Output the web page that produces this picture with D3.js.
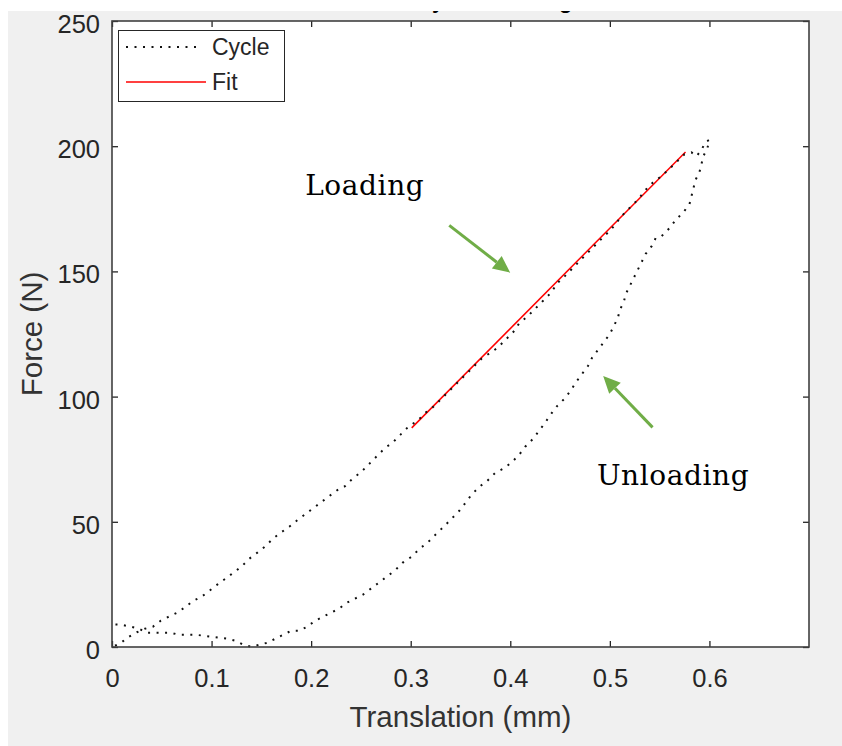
<!DOCTYPE html>
<html>
<head>
<meta charset="utf-8">
<script src="https://cdn.jsdelivr.net/npm/d3@7"></script>
<style>
  body { margin: 0; background: #fff; }
  svg { display: block; }
  .tick text { font-family: "Liberation Sans", Arial, sans-serif; fill: #262626; }
</style>
</head>
<body>
<div id="chart"></div>
<script>
// cycle data: loading branch then unloading branch
const loadX = [0.003, 0.009, 0.017, 0.025, 0.033, 0.041, 0.049, 0.057, 0.066, 0.074, 0.082, 0.090,
  0.098, 0.106, 0.114, 0.122, 0.130, 0.138, 0.146, 0.154, 0.162, 0.170, 0.178, 0.186, 0.194,
  0.202, 0.210, 0.218, 0.226, 0.234, 0.242, 0.250, 0.258, 0.266, 0.274, 0.282, 0.290, 0.298,
  0.307, 0.315, 0.323, 0.331, 0.339, 0.347, 0.355, 0.363, 0.371, 0.387, 0.395, 0.403, 0.409,
  0.417, 0.425, 0.433, 0.441, 0.447, 0.455, 0.493, 0.501, 0.513, 0.521, 0.529, 0.535, 0.543,
  0.551, 0.560, 0.575, 0.582, 0.587, 0.592, 0.596, 0.600];
const loadF = [0.5, 1.7, 4.1, 5.9, 7.3, 8.1, 10.5, 12.1, 13.8, 16.1, 18.5, 20.1,
  22.5, 25.0, 27.3, 29.7, 32.1, 35.3, 37.7, 40.2, 43.4, 45.8, 48.0, 50.6, 53.0,
  55.4, 57.8, 60.2, 62.6, 64.2, 67.4, 69.8, 73.0, 76.2, 79.4, 81.7, 84.9, 88.1,
  90.4, 93.6, 96.0, 99.2, 102.4, 105.6, 108.7, 111.9, 115.1, 119.4, 122.6, 125.8, 129.3,
  131.9, 135.1, 138.3, 141.5, 145.2, 148.2, 163.6, 166.6, 172.6, 175.8, 179.0, 182.2, 185.4,
  187.8, 191.0, 196.8, 197.5, 196.0, 198.5, 201.7, 202.5];
const unloadX = [0.598, 0.594, 0.592, 0.590, 0.586, 0.584, 0.582, 0.580, 0.574, 0.566, 0.560,
  0.552, 0.546, 0.542, 0.536, 0.532, 0.528, 0.524, 0.520, 0.516, 0.514, 0.510, 0.508, 0.504,
  0.500, 0.494, 0.488, 0.482, 0.478, 0.472, 0.466, 0.461, 0.455, 0.447, 0.441, 0.435, 0.429,
  0.423, 0.415, 0.409, 0.401, 0.393, 0.385, 0.377, 0.369, 0.361, 0.355, 0.349, 0.341, 0.333,
  0.325, 0.317, 0.309, 0.301, 0.292, 0.284, 0.276, 0.268, 0.260, 0.252, 0.244, 0.236, 0.228,
  0.220, 0.212, 0.204, 0.196, 0.188, 0.180, 0.172, 0.164, 0.156, 0.148, 0.140, 0.132, 0.124,
  0.116, 0.100, 0.084, 0.067, 0.059, 0.035, 0.027, 0.019, 0.009, 0.000];
const unloadF = [199.3, 196.1, 192.9, 189.7, 186.5, 183.3, 180.1, 176.9, 173.7, 170.5, 167.3,
  164.1, 163.3, 160.1, 157.0, 153.8, 150.6, 147.4, 144.2, 141.0, 137.8, 134.6, 131.4, 128.2,
  125.0, 121.8, 118.6, 115.4, 112.2, 109.0, 105.8, 102.6, 99.4, 96.2, 93.1, 89.6, 86.4,
  83.2, 80.0, 76.8, 73.6, 71.2, 69.6, 66.4, 64.0, 60.8, 57.6, 54.5, 51.2, 48.0,
  44.9, 41.7, 39.3, 36.1, 33.7, 30.5, 28.1, 25.7, 23.3, 20.9, 19.3, 17.7, 15.3,
  13.7, 12.1, 10.5, 8.1, 6.5, 6.5, 4.9, 3.3, 1.7, 0.9, 0.1, 0.9, 2.5,
  3.3, 4.1, 4.9, 4.9, 5.7, 5.7, 7.3, 8.1, 8.9, 9.0];

// linear fit over the loading part
const fitX = [0.301, 0.576];
const fitF = [87.5, 197.7];

const xTicks = [0, 0.1, 0.2, 0.3, 0.4, 0.5, 0.6];
const yTicks = [0, 50, 100, 150, 200, 250];

// annotation arrows and labels, in data units
const notes = [
  {text: "Loading", x: 0.194, y: 180.5, from: [0.3387, 168.4], to: [0.3999, 149.5]},
  {text: "Unloading", x: 0.487, y: 64.7, from: [0.5429, 87.7], to: [0.4933, 108.2]}
];

const W = 842, H = 746;
const svg = d3.select("#chart").append("svg").attr("width", W).attr("height", H);

// figure background
svg.append("rect").attr("width", W).attr("height", H).attr("fill", "#fff");
svg.append("rect").attr("x", 8).attr("y", 11).attr("width", W - 8).attr("height", H - 11)
  .attr("fill", "#f0f0f0");

const x = d3.scaleLinear().domain([0, 0.7]).range([112, 809]);
const y = d3.scaleLinear().domain([0, 250]).range([647, 21]);

// title, mostly cut off at the top of the screenshot
svg.append("text").attr("x", 416).attr("y", 8)
  .style("font-family", "Liberation Sans, Arial, sans-serif")
  .style("font-weight", "bold").style("font-size", "22px").attr("fill", "#000")
  .text("Cyclic Loading");
svg.append("rect").attr("width", W).attr("height", 11).attr("fill", "#fff");
svg.append("rect").attr("width", 8).attr("height", H).attr("fill", "#fff");

svg.append("rect").attr("x", x(0)).attr("y", y(250))
  .attr("width", x(0.7) - x(0)).attr("height", y(0) - y(250)).attr("fill", "#fff");

const fmt = d => d === 0 ? "0" : d3.format("")(d);

const gx = svg.append("g").attr("transform", `translate(0,${y(0)})`)
  .call(d3.axisBottom(x).tickValues(xTicks).tickFormat(fmt).tickSizeInner(-6).tickSizeOuter(0).tickPadding(22));
const gxt = svg.append("g").attr("transform", `translate(0,${y(250)})`)
  .call(d3.axisTop(x).tickValues(xTicks).tickFormat("").tickSizeInner(-6).tickSizeOuter(0));
const gy = svg.append("g").attr("transform", `translate(${x(0)},0)`)
  .call(d3.axisLeft(y).tickValues(yTicks).tickSizeInner(-6).tickSizeOuter(0).tickPadding(12));
const gyr = svg.append("g").attr("transform", `translate(${x(0.7)},0)`)
  .call(d3.axisRight(y).tickValues(yTicks).tickFormat("").tickSizeInner(-6).tickSizeOuter(0));

[gx, gxt, gy, gyr].forEach(g => {
  g.select(".domain").remove();
  g.selectAll(".tick line").attr("stroke", "#262626").attr("stroke-width", 1.3);
  g.selectAll(".tick text").style("font-size", "25.5px").attr("fill", "#333");
});
gy.selectAll(".tick text").attr("dy", "0.45em");

const line = d3.line().x(d => x(d[0])).y(d => y(d[1]));

// fit line
svg.append("path").datum(fitX.map((v, i) => [v, fitF[i]])).attr("d", line)
  .attr("fill", "none").attr("stroke", "#ff0000").attr("stroke-width", 1.5);

// cycle curve
const cycle = loadX.map((v, i) => [v, loadF[i]]).concat(unloadX.map((v, i) => [v, unloadF[i]]));
svg.append("path").datum(cycle).attr("d", line)
  .attr("fill", "none").attr("stroke", "#111").attr("stroke-width", 2)
  .attr("stroke-dasharray", "2 6.5");

// axes box
svg.append("rect").attr("x", x(0)).attr("y", y(250))
  .attr("width", x(0.7) - x(0)).attr("height", y(0) - y(250))
  .attr("fill", "none").attr("stroke", "#404040").attr("stroke-width", 1.6);

// axis labels
svg.append("text").attr("x", (x(0) + x(0.7)) / 2).attr("y", 727)
  .attr("text-anchor", "middle").attr("fill", "#333")
  .style("font-family", "Liberation Sans, Arial, sans-serif").style("font-size", "29.5px")
  .text("Translation (mm)");
svg.append("text").attr("transform", `translate(42,${(y(0) + y(250)) / 2}) rotate(-90)`)
  .attr("text-anchor", "middle").attr("fill", "#333")
  .style("font-family", "Liberation Sans, Arial, sans-serif").style("font-size", "29.5px")
  .text("Force (N)");

// annotations
const green = "#70ad47";
notes.forEach(n => {
  const [x1, y1] = [x(n.from[0]), y(n.from[1])];
  const [x2, y2] = [x(n.to[0]), y(n.to[1])];
  const ang = Math.atan2(y2 - y1, x2 - x1);
  const hl = 17, hw = 8;
  const bx = x2 - hl * Math.cos(ang), by = y2 - hl * Math.sin(ang);
  svg.append("line").attr("x1", x1).attr("y1", y1).attr("x2", bx).attr("y2", by)
    .attr("stroke", green).attr("stroke-width", 3);
  const px = -Math.sin(ang) * hw, py = Math.cos(ang) * hw;
  svg.append("path")
    .attr("d", `M${x2},${y2}L${bx + px},${by + py}L${bx - px},${by - py}Z`)
    .attr("fill", green);
  svg.append("text").attr("x", x(n.x)).attr("y", y(n.y))
    .style("font-family", "DejaVu Serif, serif").style("font-size", "28px")
    .style("letter-spacing", "0.6px")
    .attr("fill", "#000").text(n.text);
});

// legend
const lg = svg.append("g");
lg.append("rect").attr("x", 118.5).attr("y", 30.5).attr("width", 166).attr("height", 71)
  .attr("fill", "#fff").attr("stroke", "#262626").attr("stroke-width", 1);
lg.append("line").attr("x1", 126).attr("x2", 201).attr("y1", 47).attr("y2", 47)
  .attr("stroke", "#111").attr("stroke-width", 2).attr("stroke-dasharray", "2 6.5");
lg.append("line").attr("x1", 126).attr("x2", 206).attr("y1", 82).attr("y2", 82)
  .attr("stroke", "#ff0000").attr("stroke-width", 1.5);
[["Cycle", 55], ["Fit", 90]].forEach(([t, by]) => {
  lg.append("text").attr("x", 212).attr("y", by).attr("fill", "#262626")
    .style("font-family", "Liberation Sans, Arial, sans-serif").style("font-size", "23px")
    .text(t);
});
</script>
</body>
</html>
